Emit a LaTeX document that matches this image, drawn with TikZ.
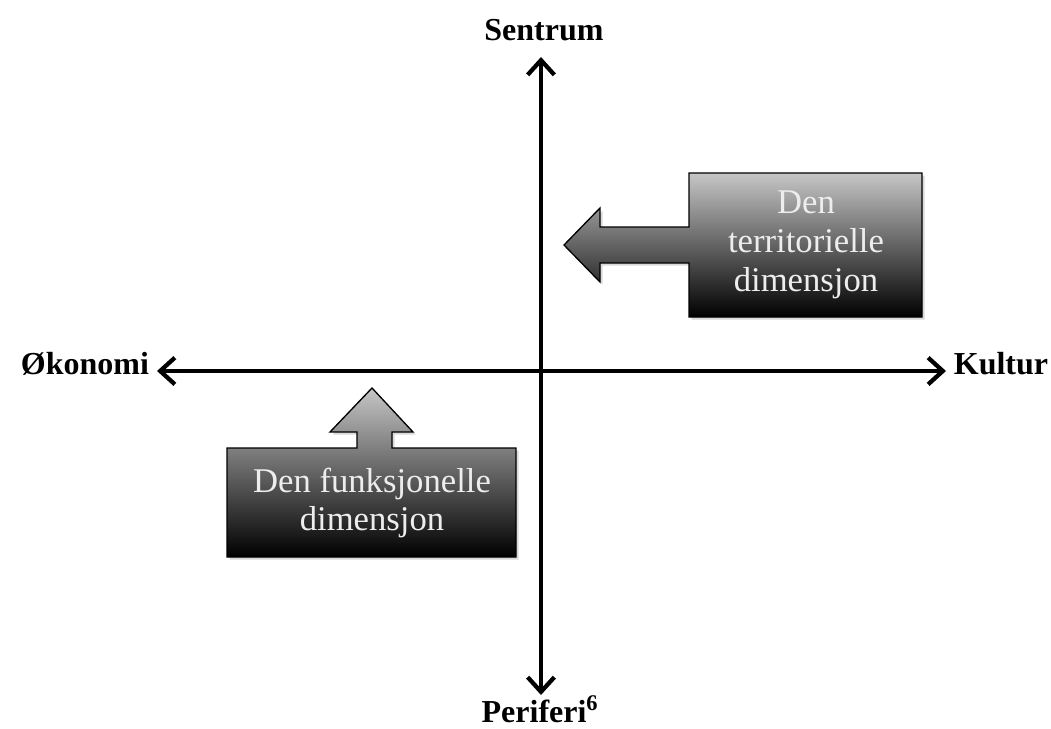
\documentclass[tikz,border=0pt]{standalone}
\usepackage{fontspec}
\setmainfont{Liberation Serif}
\usetikzlibrary{arrows.meta,shadows}
\definecolor{boxTop}{HTML}{C6C6C6}
\definecolor{boxText}{HTML}{EDEDED}

\begin{document}
\begin{tikzpicture}[x=0.75pt,y=-0.75pt]
    \useasboundingbox (0,0) rectangle (1051,729);
    \tikzset{
        axis/.style={line width=3.2pt,{Straight Barb[length=11pt,width=20pt]}-{Straight Barb[length=11pt,width=20pt]}},
        axislabel/.style={font=\bfseries\fontsize{24}{28}\selectfont},
        callout/.style={draw=black,line width=1pt,top color=boxTop,bottom color=black,
            drop shadow={opacity=0.3,shadow xshift=2pt,shadow yshift=-2pt}},
        callouttext/.style={text=boxText,align=center,font=\fontsize{26}{29}\selectfont}
    };
    % axes
    \coordinate (top) at (541,57);
    \coordinate (bottom) at (541,695);
    \coordinate (left) at (157,371);
    \coordinate (right) at (946,371);
    \draw[axis] (left) -- (right);
    \draw[axis] (bottom) -- (top);
    \node[axislabel] (sentrum) at (544,30) {Sentrum};
    \node[axislabel] (periferi) at (540,709) {Periferi\textsuperscript{6}};
    \node[axislabel] (okonomi) at (85,364) {Økonomi};
    \node[axislabel] (kultur) at (1001,364) {Kultur};
    % callouts
    \path[callout] (689,173) -- (922,173) -- (922,317) -- (689,317) -- (689,263) -- (600,263) -- (600,282)
        -- (564,245) -- (600,208) -- (600,227) -- (689,227) -- cycle;
    \node[callouttext] (territoriell) at (806,245) {Den\\territorielle\\dimensjon};
    \path[callout] (227,448) -- (357,448) -- (357,432) -- (330,432) -- (372,388) -- (413,432) -- (392,432)
        -- (392,448) -- (516,448) -- (516,557) -- (227,557) -- cycle;
    \node[callouttext] (funksjonell) at (372,503) {Den funksjonelle\\dimensjon};
\end{tikzpicture}
\end{document}
